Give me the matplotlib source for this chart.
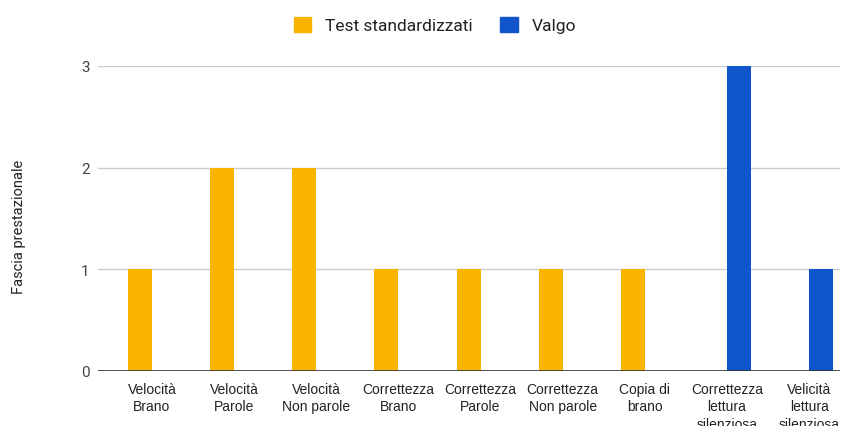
import matplotlib
matplotlib.use("Agg")
import matplotlib.pyplot as plt
import numpy as np
from matplotlib.patches import Patch

categories = ["Velocità\nBrano", "Velocità\nParole", "Velocità\nNon parole",
              "Correttezza\nBrano", "Correttezza\nParole", "Correttezza\nNon parole",
              "Copia di\nbrano", "Correttezza\nlettura\nsilenziosa", "Velicità\nlettura\nsilenziosa"]
test_std = [1, 2, 2, 1, 1, 1, 1, 0, 0]
valgo = [0, 0, 0, 0, 0, 0, 0, 3, 1]
series_names = ["Test standardizzati", "Valgo"]
yticks = [0, 1, 2, 3]

YELLOW = "#F9B400"
BLUE = "#1155CC"

plt.rcParams['font.family'] = ['Roboto', 'DejaVu Sans']

fig = plt.figure(figsize=(8.48, 4.27), dpi=100)
ax = fig.add_axes([98/848, (427-372)/427, (840-98)/848, (372-67)/427])

x = np.arange(len(categories))
w = 0.292
ax.bar(x - w/2, test_std, width=w, color=YELLOW, zorder=3)
ax.bar(x + w/2, valgo, width=w, color=BLUE, zorder=3)

ax.set_xlim(-0.657, 8.376)
ax.set_ylim(0, 3)
ax.set_yticks(yticks)
ax.set_yticklabels([str(t) for t in yticks])
ax.yaxis.grid(True, color="#cccccc", linewidth=1, zorder=0)
ax.axhline(0, color="#333333", linewidth=1.2, zorder=4)
for s in ax.spines.values():
    s.set_visible(False)
ax.tick_params(axis='y', length=0, pad=6, labelsize=11, labelcolor="#444444")
ax.set_xticks(x)
ax.set_xticklabels(categories, fontsize=10, color="#222222", linespacing=1.3,
                   family=['Liberation Sans Narrow', 'Liberation Sans', 'DejaVu Sans'])
ax.tick_params(axis='x', length=0, pad=8)

fig.text(19/848, 1 - 227/427, "Fascia prestazionale", rotation=90, ha='center', va='center',
         fontsize=10.5, color="#222222")

handles = [Patch(facecolor=YELLOW, edgecolor=YELLOW), Patch(facecolor=BLUE, edgecolor=BLUE)]
fig.legend(handles, series_names, loc='center', bbox_to_anchor=(435/848, 1 - 26/427),
           ncol=2, frameon=False, fontsize=12.5, handlelength=1.0, handleheight=1.0,
           handletextpad=0.8, columnspacing=1.6, labelcolor="#222222")

fig.savefig("out.png", dpi=100)
